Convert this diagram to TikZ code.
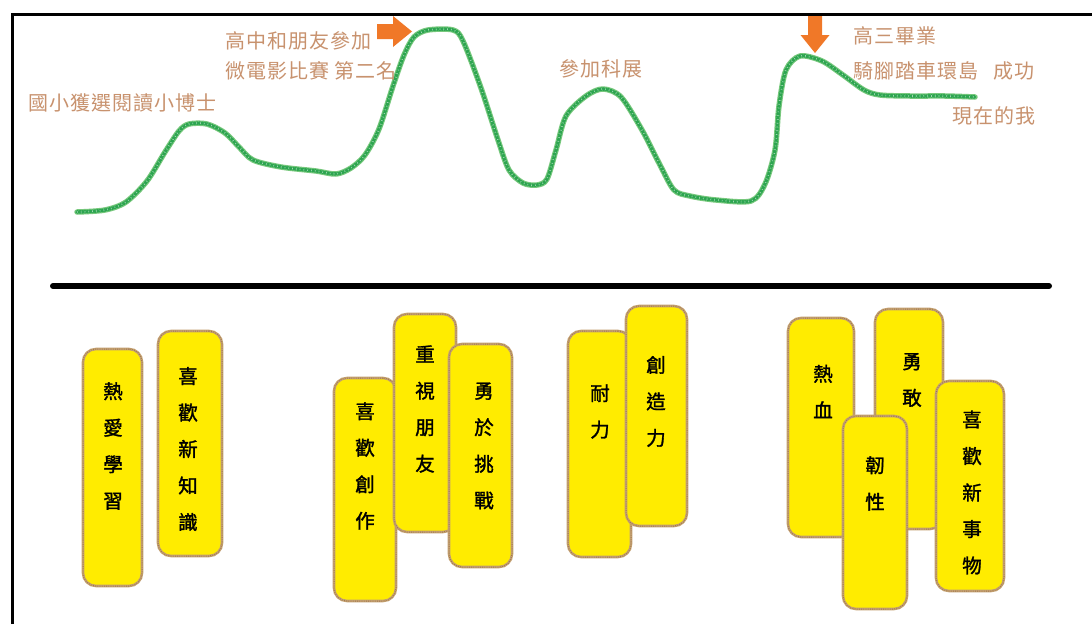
\documentclass[tikz,border=0pt]{standalone}
\usepackage{fontspec}
\newfontfamily\cjklab[LetterSpace=5]{Noto Sans CJK TC}
\newfontfamily\cjkbox[FakeBold=1.5]{Noto Sans CJK TC}
\definecolor{labcol}{RGB}{200,146,110}
\definecolor{boxyellow}{RGB}{255,236,0}
\definecolor{boxedge}{RGB}{196,160,112}
\definecolor{boxedgedark}{RGB}{160,120,80}
\definecolor{curvelight}{RGB}{120,200,125}
\definecolor{curvedark}{RGB}{45,165,80}
\definecolor{arrorange}{RGB}{240,120,40}
\tikzset{
  ybox/.style={rectangle, rounded corners=13pt, fill=boxyellow, draw=boxedge,
    line width=2.6pt, inner sep=0pt,
    postaction={draw=boxedgedark, line width=1pt, dash pattern=on 0.8pt off 1.4pt}},
  ytext/.style={align=center, inner sep=0pt, font=\cjkbox\fontsize{19.5}{36.5}\selectfont},
  lab/.style={anchor=west, inner sep=0pt, text=labcol, font=\cjklab\fontsize{20}{24}\selectfont},
  frameline/.style={line width=3pt, black},
  sepline/.style={line width=6pt, line cap=round, black},
  arrowfill/.style={fill=arrorange, draw=none}
}
\begin{document}
\begin{tikzpicture}[x=1pt,y=-1pt]
\useasboundingbox (0,0) rectangle (1092,624);
\fill[white] (0,0) rectangle (1092,624);
% frame
\draw[frameline] (12,624) -- (12,14) -- (1092,14);
% separator
\coordinate (sepL) at (53,286);
\coordinate (sepR) at (1049,286);
\draw[sepline] (sepL) -- (sepR);
% curve
\def\curvepts{(77,212) (105,210) (126,202) (147,181) (165,152) (179,131) (189,124) (207,124) (225,133) (239,147) (253,160) (281,167) (316,171) (336,174) (351,168) (365,155) (379,129) (393,86) (404,55) (414,37) (428,30) (453,30) (463,41) (481,88) (498,140) (509,170) (523,183) (537,185) (547,179) (556,150) (566,116) (586,96) (603,89) (621,97) (642,130) (660,165) (674,190) (690,196) (716,200) (751,201) (765,184) (775,150) (779,106) (786,70) (800,56) (822,61) (843,75) (864,90) (880,95) (910,96) (945,96) (975,97)}
\draw[curvelight, line width=5.5pt, line cap=round, line join=round] plot[smooth, tension=0.5] coordinates {\curvepts};
\draw[curvedark, line width=3.5pt, line cap=round, dash pattern=on 1.2pt off 1.3pt] plot[smooth, tension=0.5] coordinates {\curvepts};
\draw[white, opacity=0.55, line width=1.6pt, dash pattern=on 0.7pt off 3.1pt] plot[smooth, tension=0.5] coordinates {\curvepts};
% arrows
\fill[arrowfill] (377,24) -- (393,24) -- (393,16) -- (412,31.5) -- (393,47) -- (393,39) -- (377,39) -- cycle;
\fill[arrowfill] (808,16) -- (822,16) -- (822,35) -- (829.5,35) -- (815,53) -- (800.5,35) -- (808,35) -- cycle;
% labels
\node[lab] (l1) at (225,41) {高中和朋友參加};
\node[lab] (l2) at (225,71) {微電影比賽 第二名};
\node[lab] (l3) at (28,103) {國小獲選閱讀小博士};
\node[lab] (l4) at (559,69) {參加科展};
\node[lab] (l5) at (853,36) {高三畢業};
\node[lab] (l6) at (853,71) {騎腳踏車環島\hspace{0.5em} 成功};
\node[lab] (l7) at (952,116) {現在的我};
% boxes
\node[ybox, minimum width=59pt, minimum height=237pt] (b1) at (112.5,467.5) {};
\node[ytext] (t1) at (113,446) {熱\\愛\\學\\習};
\node[ybox, minimum width=64pt, minimum height=225pt] (b2) at (190,443.5) {};
\node[ytext] (t2) at (188,449) {喜\\歡\\新\\知\\識};
\node[ybox, minimum width=62pt, minimum height=223pt] (b3) at (365,489.5) {};
\node[ytext] (t3) at (365,466) {喜\\歡\\創\\作};
\node[ybox, minimum width=62pt, minimum height=218pt] (b4) at (425,423) {};
\node[ytext] (t4) at (425,409) {重\\視\\朋\\友};
\node[ybox, minimum width=63pt, minimum height=223pt] (b5) at (480.5,455.5) {};
\node[ytext] (t5) at (484,446) {勇\\於\\挑\\戰};
\node[ybox, minimum width=63pt, minimum height=226pt] (b6) at (599.5,444) {};
\node[ytext] (t6) at (600,411.5) {耐\\力};
\node[ybox, minimum width=61pt, minimum height=220pt] (b7) at (656.5,416) {};
\node[ytext] (t7) at (656,401.5) {創\\造\\力};
\node[ybox, minimum width=66pt, minimum height=219pt] (b8) at (821,427.5) {};
\node[ytext] (t8) at (823,391.5) {熱\\血};
\node[ybox, minimum width=68pt, minimum height=220pt] (b9) at (909,419) {};
\node[ytext] (t9) at (912,380) {勇\\敢};
\node[ybox, minimum width=68pt, minimum height=210pt] (b11) at (970,486) {};
\node[ytext] (t11) at (972,492.5) {喜\\歡\\新\\事\\物};
\node[ybox, minimum width=64pt, minimum height=193pt] (b10) at (875,512.5) {};
\node[ytext] (t10) at (875,483.5) {韌\\性};
\end{tikzpicture}
\end{document}
